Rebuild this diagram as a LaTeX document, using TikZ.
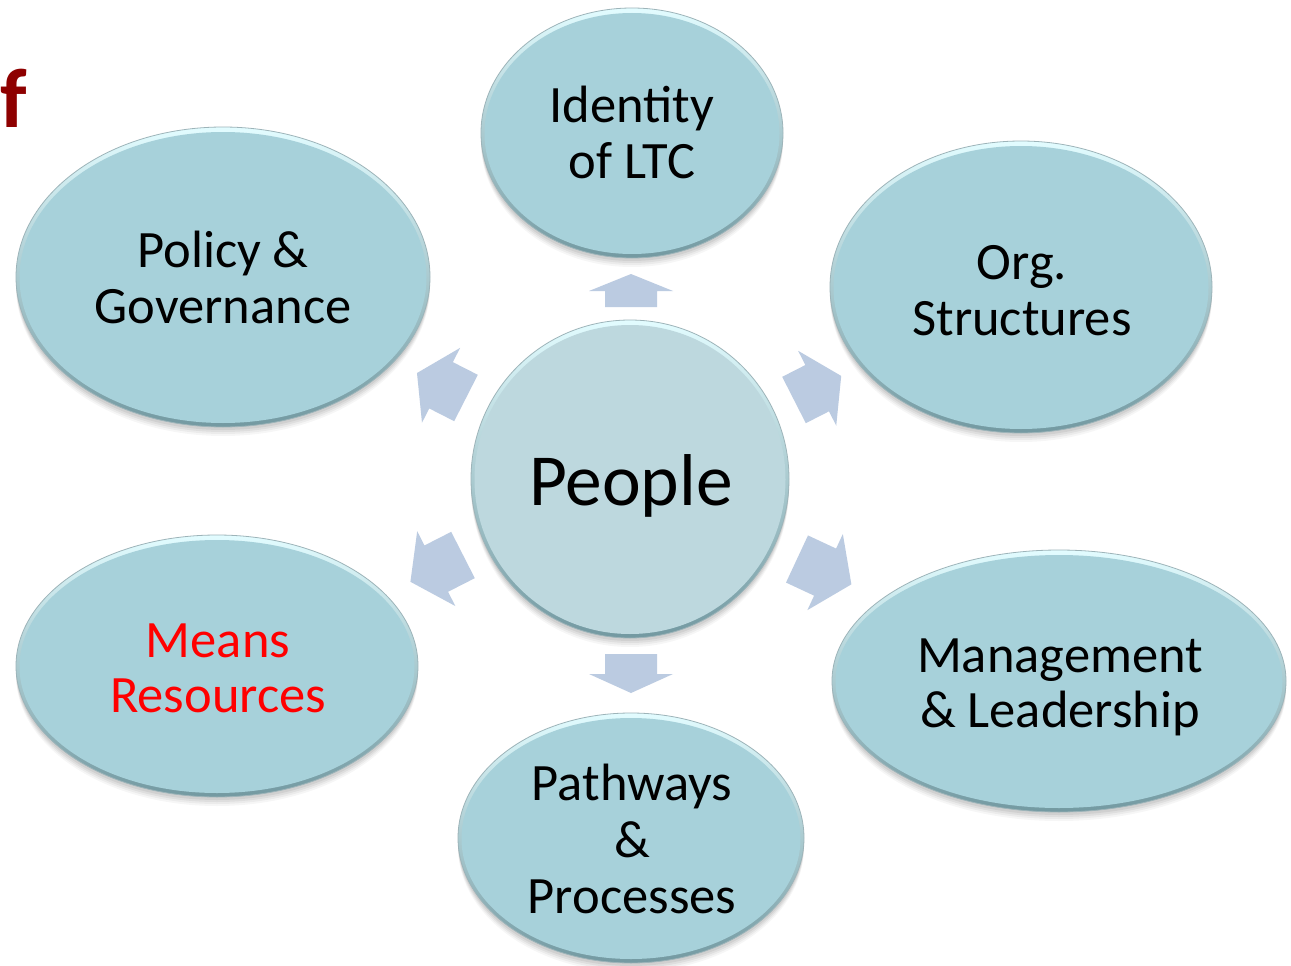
\documentclass[tikz,border=0pt]{standalone}
\usepackage{fontspec}
\setmainfont{Carlito}
\usetikzlibrary{shapes.geometric}
\definecolor{ellfill}{HTML}{A7D1DA}
\definecolor{pplfill}{HTML}{BDD8DE}
\definecolor{arrowc}{HTML}{BBCBE1}
\definecolor{rimlight}{HTML}{E2FCFF}
\definecolor{rimdark}{HTML}{7399A1}
\definecolor{rimline}{HTML}{9DB4B9}
\definecolor{fcol}{HTML}{8E0000}
\newcommand\bubble[6]{%
  \foreach \k/\o in {9/0.035,7/0.045,5/0.055,3/0.06}
    \fill[black,opacity=\o] (#2,#3+\k) ellipse [x radius=#4, y radius=#5];
  \node[bubshape, minimum width=2*#4, minimum height=2*#5] (#1) at (#2,#3) {};
  \fill[#6] (#2,#3+0.5) ellipse [x radius=#4-3.5, y radius=#5-4.5];
}
\newcommand\blockarrow[5]{%
  \fill[arrowc, shift={(#1,#2)}, rotate=#3]
    (0,-26) -- (#4,-26) -- (#4,-42) -- (#4+#5,0) -- (#4,42) -- (#4,26) -- (0,26) -- cycle;
}
\begin{document}
\begin{tikzpicture}[x=1pt,y=-1pt,
  bubshape/.style={ellipse, inner sep=0pt, draw=rimline, line width=0.8pt,
    top color=rimlight, bottom color=rimdark},
  lbl/.style={anchor=base, inner sep=0pt, font=\fontsize{52.5}{56}\selectfont},
  big/.style={anchor=base, inner sep=0pt, font=\fontsize{73.4}{80}\selectfont}]
\useasboundingbox (0,0) rectangle (1291,966);
\fill[white] (0,0) rectangle (1291,966);
\begin{scope}
\clip (0,0) rectangle (1291,966);
% f letter
\node[anchor=base east, inner sep=0pt, text=fcol,
  font=\fontsize{84}{90}\selectfont\bfseries] (fl) at (27,127) {f};
% ellipses
\bubble{idn}{632}{133}{151}{125}{ellfill}
\bubble{pol}{223}{277}{207}{150}{ellfill}
\bubble{org}{1021}{287}{191}{146}{ellfill}
\bubble{mea}{217}{666}{201}{131}{ellfill}
\bubble{man}{1059}{681}{227}{131}{ellfill}
\bubble{pat}{631}{838}{173}{125}{ellfill}
\bubble{ppl}{630}{479}{159}{159}{pplfill}
% block arrows
\blockarrow{631}{307}{90}{16}{17}
\blockarrow{631}{654}{-90}{20}{19}
\blockarrow{466}{398}{153}{28}{27}
\blockarrow{794}{400}{27}{26}{27}
\blockarrow{463}{555}{207}{30}{29}
\blockarrow{797}{559}{-25}{31}{29}
% labels
\node[lbl] (idA) at (632,122) {Identity};
\node[lbl] (idB) at (632,178) {of LTC};
\node[lbl] (polA) at (223,267) {Policy \&};
\node[lbl] (polB) at (223,323) {Governance};
\node[lbl] (orgA) at (1022,279) {Org.};
\node[lbl] (orgB) at (1022,335) {Structures};
\node[big] (pplA) at (631,505) {People};
\node[lbl, text=red] (meaA) at (218,657) {Means};
\node[lbl, text=red] (meaB) at (218,712) {Resources};
\node[lbl] (manA) at (1060,672) {Management};
\node[lbl] (manB) at (1060,727) {\& Leadership};
\node[lbl] (patA) at (632,800) {Pathways};
\node[lbl] (patB) at (632,857) {\&};
\node[lbl] (patC) at (632,913) {Processes};
\end{scope}
\end{tikzpicture}
\end{document}
